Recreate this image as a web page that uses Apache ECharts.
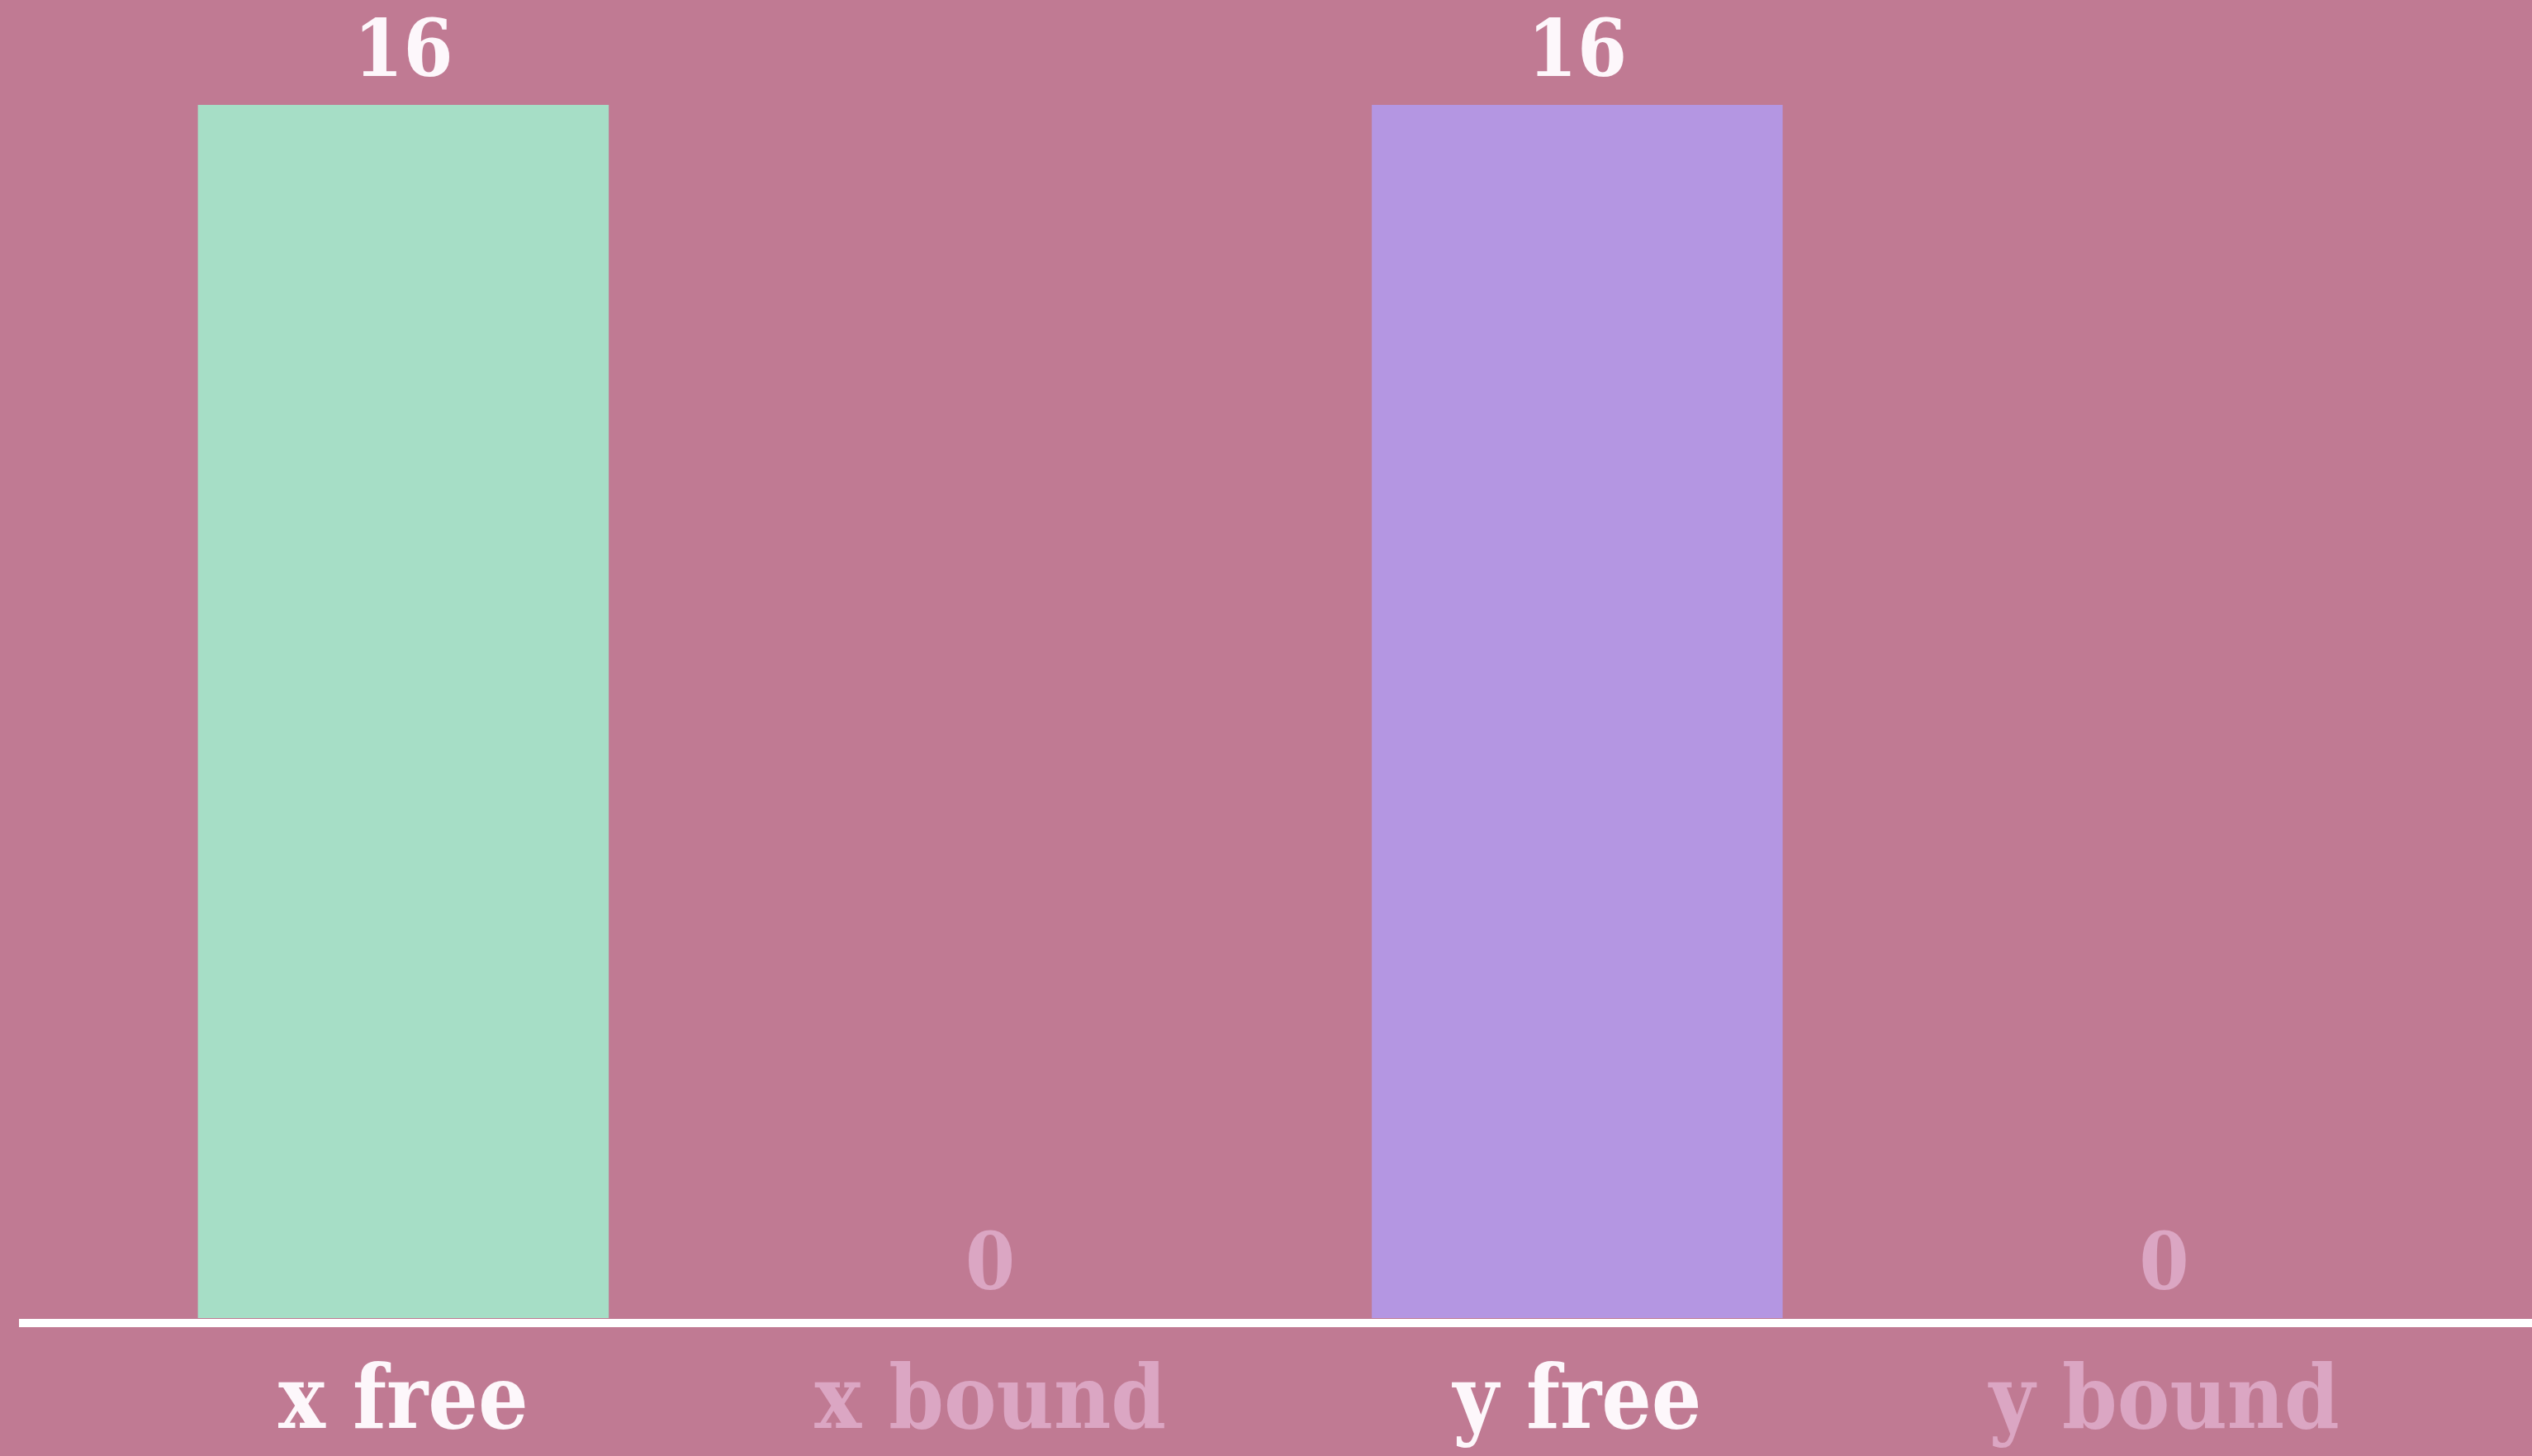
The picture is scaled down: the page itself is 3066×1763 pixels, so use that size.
<!DOCTYPE html>
<html>
<head>
<meta charset="utf-8">
<script src="https://cdn.jsdelivr.net/npm/echarts@6/dist/echarts.min.js"></script>
<style>
  html, body { margin: 0; padding: 0; background: #c07a93; }
  #chart { width: 3066px; height: 1763px; }
</style>
</head>
<body>
<div id="chart"></div>
<script>
// Counts of free vs bound coordinates
const categories = ['x free', 'x bound', 'y free', 'y bound'];
const counts = [16, 0, 16, 0];
const barColors = ['#a6dec6', '#a6dec6', '#b496e2', '#b496e2'];
const isActive = [true, false, true, false];

const FONT = "'DejaVu Serif Condensed', 'DejaVu Serif', serif";
const WHITE = '#fdf7fb';
const FADED = '#dba6c3';

const chart = echarts.init(document.getElementById('chart'), null, { renderer: 'canvas' });

chart.setOption({
  backgroundColor: '#c07a93',
  animation: false,
  grid: [
    { left: 133, right: 90, top: 127, bottom: 167 },
    { left: 23, right: 0, top: 127, bottom: 161 }
  ],
  xAxis: [
    {
      type: 'category',
      gridIndex: 0,
      data: categories.map((c, i) => ({
        value: c,
        textStyle: { color: isActive[i] ? WHITE : FADED }
      })),
      axisLine: { show: false },
      axisTick: { show: false },
      axisLabel: {
        margin: 52,
        fontFamily: FONT,
        fontWeight: 'bold',
        fontSize: 106,
        lineHeight: 106
      }
    },
    {
      type: 'value',
      gridIndex: 1,
      min: 0,
      max: 1,
      axisLine: { show: true, onZero: false, lineStyle: { color: '#ffffff', width: 10, cap: 'butt' } },
      axisTick: { show: false },
      axisLabel: { show: false },
      splitLine: { show: false }
    }
  ],
  yAxis: [
    { type: 'value', gridIndex: 0, min: 0, max: 16, show: false },
    { type: 'value', gridIndex: 1, min: 0, max: 1, show: false }
  ],
  series: [{
    type: 'bar',
    xAxisIndex: 0,
    yAxisIndex: 0,
    barWidth: '70%',
    data: counts.map((v, i) => ({
      value: v,
      itemStyle: { color: barColors[i] },
      label: { color: isActive[i] ? WHITE : FADED }
    })),
    label: {
      show: true,
      position: 'top',
      distance: 12,
      fontFamily: FONT,
      fontWeight: 'bold',
      fontSize: 96
    }
  }]
});
</script>
</body>
</html>
